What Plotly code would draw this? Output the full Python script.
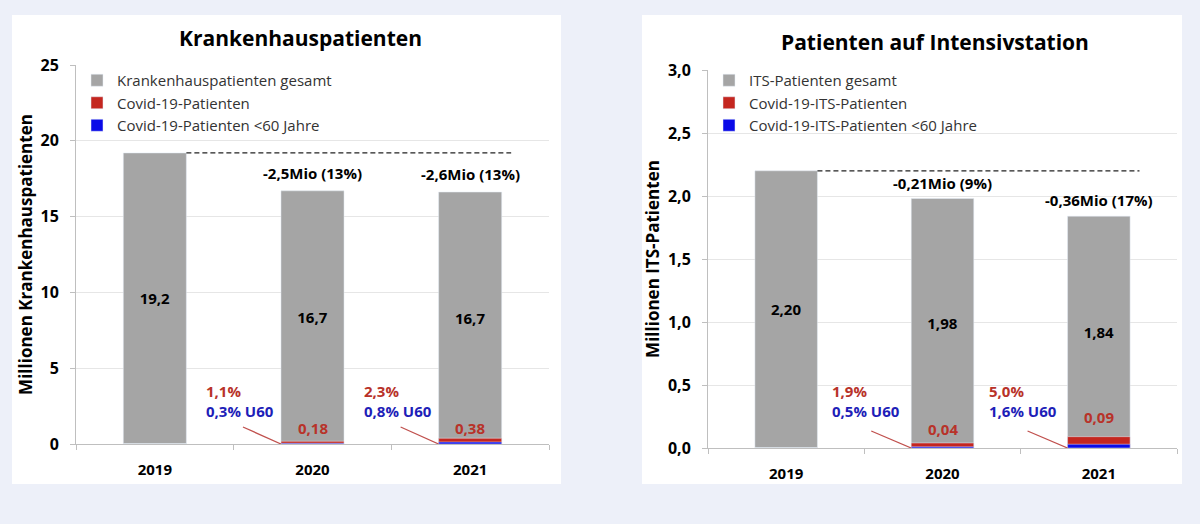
import plotly.graph_objects as go

# ---------------- data ----------------
years = ["2019", "2020", "2021"]

# Krankenhauspatienten (Mio)
kh_total = [19.2, 16.7, 16.62]
kh_covid = [0.0, 0.18, 0.38]
kh_u60 = [0.0, 0.05, 0.13]
kh_total_labels = ["19,2", "16,7", "16,7"]
kh_change_labels = ["", "-2,5Mio (13%)", "-2,6Mio (13%)"]
kh_covid_labels = ["", "0,18", "0,38"]
kh_share_labels = ["", "1,1%", "2,3%"]
kh_u60_share_labels = ["", "0,3% U60", "0,8% U60"]

# ITS-Patienten (Mio)
its_total = [2.20, 1.98, 1.84]
its_covid = [0.0, 0.04, 0.09]
its_u60 = [0.0, 0.01, 0.03]
its_total_labels = ["2,20", "1,98", "1,84"]
its_change_labels = ["", "-0,21Mio (9%)", "-0,36Mio (17%)"]
its_covid_labels = ["", "0,04", "0,09"]
its_share_labels = ["", "1,9%", "5,0%"]
its_u60_share_labels = ["", "0,5% U60", "1,6% U60"]

# ---------------- style ----------------
FONT = "Open Sans"
GRAY = "#A5A5A5"
RED = "#C4261F"
BLUE = "#0A0AE8"
RED_TXT = "#B83229"
BLUE_TXT = "#1E1EB8"
AXIS = "#BFBFBF"
GRID = "#E6E6E6"
BG = "#EDF0F9"
BAR_W = 0.4

fig = go.Figure()


def add_panel(xa, ya, legend, total, covid, u60, total_labels, names):
    fig.add_trace(go.Bar(
        x=years, y=total, name=names[0], marker_color=GRAY, width=BAR_W,
        text=total_labels, textposition="inside", insidetextanchor="middle",
        textfont=dict(family=FONT, size=15, color="black", weight="bold"),
        xaxis=xa, yaxis=ya, legend=legend, hoverinfo="skip"))
    fig.add_trace(go.Bar(
        x=years, y=covid, name=names[1], marker_color=RED, width=BAR_W,
        xaxis=xa, yaxis=ya, legend=legend, hoverinfo="skip"))
    fig.add_trace(go.Bar(
        x=years, y=u60, name=names[2], marker_color=BLUE, width=BAR_W,
        xaxis=xa, yaxis=ya, legend=legend, hoverinfo="skip"))


add_panel("x", "y", "legend", kh_total, kh_covid, kh_u60, kh_total_labels,
          ["Krankenhauspatienten gesamt", "Covid-19-Patienten",
           "Covid-19-Patienten <60 Jahre"])
add_panel("x2", "y2", "legend2", its_total, its_covid, its_u60, its_total_labels,
          ["ITS-Patienten gesamt", "Covid-19-ITS-Patienten",
           "Covid-19-ITS-Patienten <60 Jahre"])

shapes = []
annotations = []

# white panels
for x0, x1 in [(12 / 1200, 561 / 1200), (642 / 1200, 1182 / 1200)]:
    shapes.append(dict(type="rect", xref="paper", yref="paper", x0=x0, x1=x1,
                       y0=1 - 484 / 524, y1=1 - 15 / 524, fillcolor="white",
                       line=dict(width=0), layer="below"))


def panel_marks(xr, yr, total, covid, change, covid_lab, share, u60share,
                lab_dx, lab_dy, line_dx, line_dy, covid_shift, change_shift):
    # dashed reference line at 2019 level
    shapes.append(dict(type="line", xref=xr, yref=yr, x0=0 + BAR_W / 2, x1=2.26,
                       y0=total[0], y1=total[0],
                       line=dict(color="#222222", width=1.2, dash="5px,3px")))
    for i in range(1, len(years)):
        annotations.append(dict(
            xref=xr, yref=yr, x=i, y=total[i], text=change[i], showarrow=False,
            yanchor="bottom", yshift=change_shift,
            font=dict(family=FONT, size=15, color="black", weight="bold")))
        annotations.append(dict(
            xref=xr, yref=yr, x=i, y=covid[i], text=covid_lab[i], showarrow=False,
            yanchor="bottom", yshift=covid_shift[i],
            font=dict(family=FONT, size=15, color=RED_TXT, weight="bold")))
        annotations.append(dict(
            xref=xr, yref=yr, x=i - BAR_W / 2, y=0, showarrow=False,
            xanchor="left", yanchor="bottom", align="left",
            xshift=lab_dx, yshift=lab_dy,
            text=(f"<span style='color:{RED_TXT}'>{share[i]}</span><br>"
                  f"<span style='color:{BLUE_TXT}'>{u60share[i]}</span>"),
            font=dict(family=FONT, size=15, weight="bold")))
        shapes.append(dict(
            type="line", xref=xr, yref=yr, xsizemode="pixel", ysizemode="pixel",
            xanchor=i - BAR_W / 2, yanchor=0, x0=line_dx, x1=0, y0=line_dy, y1=0,
            line=dict(color="#C0504D", width=1.3)))


panel_marks("x", "y", kh_total, kh_covid, kh_change_labels, kh_covid_labels,
            kh_share_labels, kh_u60_share_labels,
            lab_dx=-77, lab_dy=21, line_dx=-38, line_dy=17,
            covid_shift=[0, 1, -2], change_shift=6)
panel_marks("x2", "y2", its_total, its_covid, its_change_labels, its_covid_labels,
            its_share_labels, its_u60_share_labels,
            lab_dx=-81, lab_dy=25, line_dx=-40, line_dy=17,
            covid_shift=[0, 2, 8], change_shift=4)

# titles
annotations.append(dict(xref="paper", yref="paper", x=300 / 1200, y=1 - 38 / 524,
                        xanchor="center", yanchor="middle",
                        text="Krankenhauspatienten", showarrow=False,
                        font=dict(family=FONT, size=21, color="black", weight="bold")))
annotations.append(dict(xref="paper", yref="paper", x=935 / 1200, y=1 - 42 / 524,
                        xanchor="center", yanchor="middle",
                        text="Patienten auf Intensivstation", showarrow=False,
                        font=dict(family=FONT, size=21, color="black", weight="bold")))

xaxis_common = dict(type="category", tickson="boundaries", ticks="outside", ticklen=5,
                    tickcolor=AXIS, showline=True, linecolor=AXIS, linewidth=1,
                    showgrid=False, ticklabelstandoff=12, automargin=False,
                    tickfont=dict(family=FONT, size=15, color="black", weight="bold"))
yaxis_common = dict(ticks="outside", ticklen=5, tickcolor=AXIS, showline=True,
                    linecolor=AXIS, linewidth=1, gridcolor=GRID, zeroline=False,
                    ticklabelstandoff=8, automargin=False,
                    tickfont=dict(family=FONT, size=16, color="black", weight="bold"))

legend_common = dict(bgcolor="rgba(0,0,0,0)", yanchor="top", xanchor="left",
                     font=dict(family=FONT, size=15, color="#333333"),
                     traceorder="normal")

fig.update_layout(
    width=1200, height=524,
    margin=dict(l=0, r=0, t=0, b=0, autoexpand=False),
    paper_bgcolor=BG, plot_bgcolor="white",
    barmode="overlay",
    separators=",.",
    font=dict(family=FONT),
    xaxis=dict(domain=[76 / 1200, 549 / 1200], anchor="y", **xaxis_common),
    yaxis=dict(domain=[1 - 444 / 524, 1 - 65 / 524], anchor="x", range=[0, 25], dtick=5,
               title=dict(text="Millionen Krankenhauspatienten", standoff=3,
                          font=dict(family=FONT, size=17, color="black", weight="bold")),
               **yaxis_common),
    xaxis2=dict(domain=[708 / 1200, 1177 / 1200], anchor="y2", **xaxis_common),
    yaxis2=dict(domain=[1 - 448 / 524, 1 - 70 / 524], anchor="x2", range=[0, 3], dtick=0.5,
                tickformat=".1f",
                title=dict(text="Millionen ITS-Patienten", standoff=3,
                           font=dict(family=FONT, size=17, color="black", weight="bold")),
                **yaxis_common),
    legend=dict(x=77 / 1200, y=1 - 64 / 524, **legend_common),
    legend2=dict(x=709 / 1200, y=1 - 64 / 524, **legend_common),
    shapes=shapes,
    annotations=annotations,
    showlegend=True,
)

fig.write_html(
    "out.html",
    config={"displayModeBar": False},
    post_script=("document.body.style.margin='0';"
                 "document.body.style.background='" + BG + "';"),
)
